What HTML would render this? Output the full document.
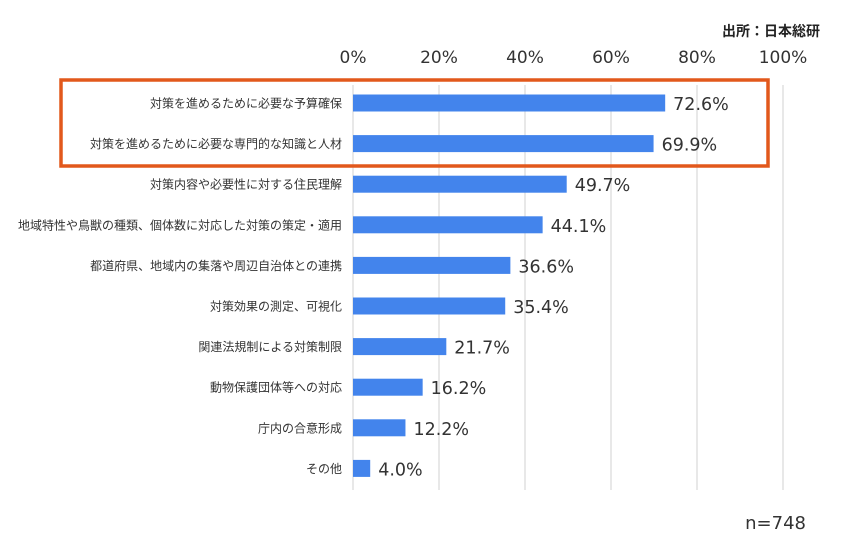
<!DOCTYPE html>
<html><head><meta charset="utf-8"><style>
body{margin:0;background:#fff;}
svg text{font-family:"Liberation Sans","Noto Sans CJK JP",sans-serif;}
svg text.num{font-family:"DejaVu Sans","Liberation Sans",sans-serif;}
</style></head><body>
<svg width="847" height="542" xmlns="http://www.w3.org/2000/svg">
<text x="820" y="36" text-anchor="end" font-size="14" font-weight="bold" fill="#222">出所：日本総研</text>
<g id="grid"></g><g id="ticks"></g><g id="bars"></g><g id="cats"></g><g id="vals"></g>
<rect x="61" y="80" width="707" height="86" fill="none" stroke="#e2581c" stroke-width="3.5"/>
<text class="num" x="806" y="529" text-anchor="end" font-size="18" fill="#333">n=748</text>
</svg>
<script>
const categories=["対策を進めるために必要な予算確保","対策を進めるために必要な専門的な知識と人材","対策内容や必要性に対する住民理解","地域特性や鳥獣の種類、個体数に対応した対策の策定・適用","都道府県、地域内の集落や周辺自治体との連携","対策効果の測定、可視化","関連法規制による対策制限","動物保護団体等への対応","庁内の合意形成","その他"];
const values=[72.6,69.9,49.7,44.1,36.6,35.4,21.7,16.2,12.2,4.0];
const tickValues=[0,20,40,60,80,100];
const NS="http://www.w3.org/2000/svg";
const x=v=>353+v*4.3;
const y=i=>103+i*40.6;
function mk(tag,attrs,parent,txt){const e=document.createElementNS(NS,tag);for(const k in attrs)e.setAttribute(k,attrs[k]);if(txt!==undefined)e.textContent=txt;document.getElementById(parent).appendChild(e);return e;}
tickValues.forEach(t=>{
  const l=mk('line',{x1:x(t),x2:x(t),y1:85,y2:490,stroke:'#d9d9d9','stroke-width':1.2},'grid');
  
  
  const tx=mk('text',{class:'num',x:x(t),y:63,'text-anchor':'middle','font-size':17,fill:'#333'},'ticks',t+'%');
  
  
});
values.forEach((v,i)=>{
  const r=mk('rect',{x:x(0),y:y(i)-8.5,width:x(v)-x(0),height:17,fill:'#4384ec'},'bars');
  
  
  const c=mk('text',{x:342,y:y(i)+4.5,'text-anchor':'end','font-size':12,fill:'#333'},'cats',categories[i]);
  
  
  const t=mk('text',{class:'num',x:x(v)+8,y:y(i)+7,'font-size':17.5,fill:'#333'},'vals',v.toFixed(1)+'%');
  
  
});
</script>
</body></html>
